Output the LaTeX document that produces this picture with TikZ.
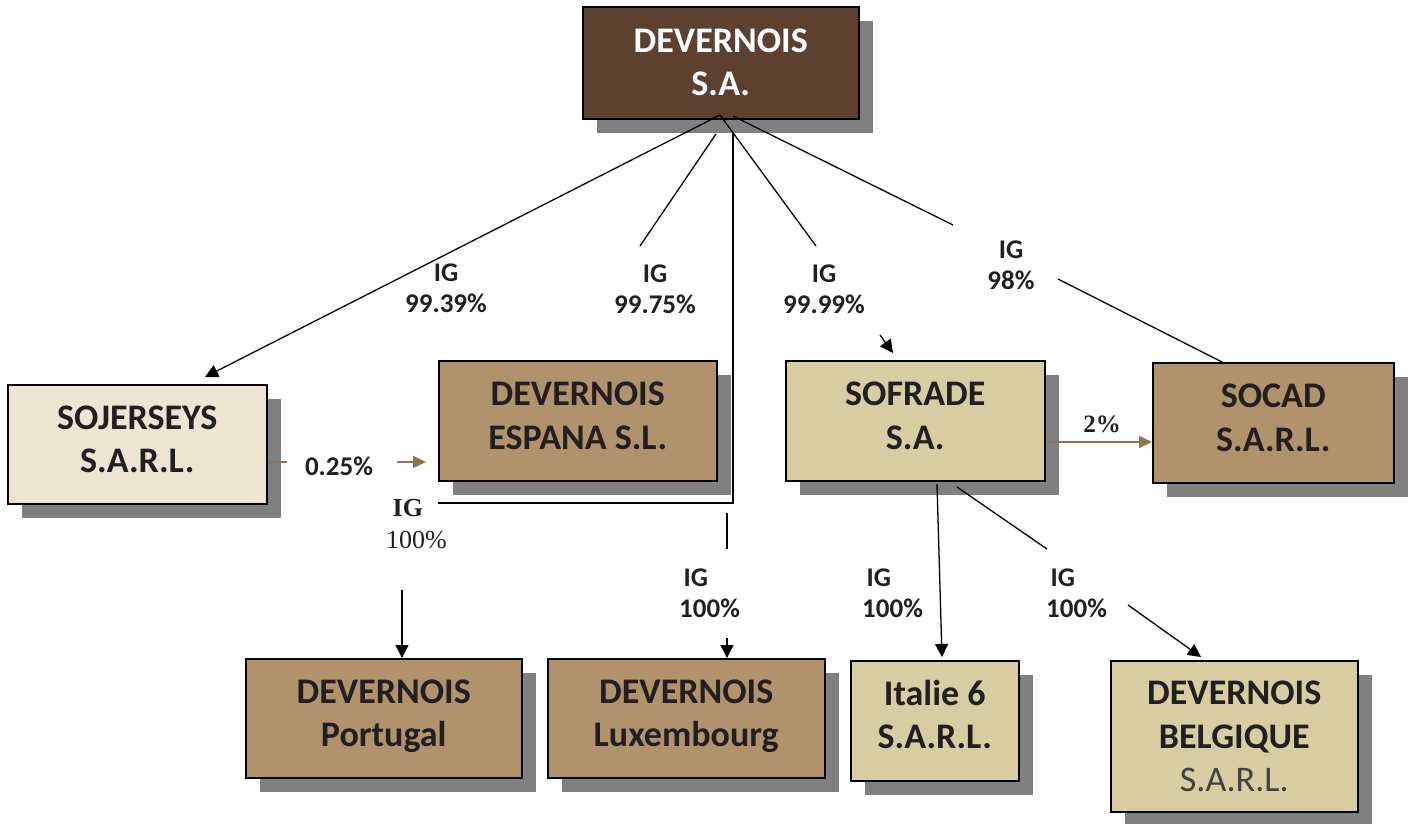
\documentclass[tikz,border=0pt]{standalone}
\usepackage{fontspec}
\setmainfont{Carlito}
\newfontfamily\seriffont{Liberation Serif}
\usetikzlibrary{shadows,arrows.meta}
\definecolor{topbrown}{HTML}{5C4130}
\definecolor{midbrown}{HTML}{B0926C}
\definecolor{sand}{HTML}{D8CCA2}
\definecolor{cream}{HTML}{EDE5D1}
\definecolor{shadowgray}{HTML}{808080}
\definecolor{textdark}{HTML}{231F20}
\definecolor{arrowbrown}{HTML}{8F7450}
\newcommand{\boxtext}[2][2pt]{\raisebox{#1}[\height][\depth]{\begin{tabular}{@{}c@{}}#2\end{tabular}}}
\tikzset{
  box/.style={draw=black, line width=1.5pt, align=center, inner sep=0pt, anchor=north west,
    font=\fontsize{36}{43.5}\selectfont\bfseries, text=textdark,
    drop shadow={shadow xshift=14pt, shadow yshift=-14pt, fill=shadowgray, opacity=1}},
  lab/.style={font=\fontsize{27}{31}\selectfont\bfseries, text=textdark, align=center, inner sep=0pt},
  labl/.style={lab, align=left, anchor=west},
  slab/.style={font=\fontsize{26}{32}\selectfont\seriffont, text=textdark, align=left, inner sep=0pt},
  conn/.style={line width=1.3pt, black},
  arr/.style={conn, -{Triangle[length=13pt,width=13pt]}},
  barr/.style={line width=1.6pt, arrowbrown, -{Triangle[length=13pt,width=12pt]}},
  bline/.style={line width=1.6pt, arrowbrown}
}
\begin{document}
\begin{tikzpicture}[x=1pt,y=-1pt]
\useasboundingbox (0,0) rectangle (1416,823);
% boxes
\node[box, fill=topbrown, text=white, minimum width=276, minimum height=112] (top) at (582,6) {\boxtext[-2.5pt]{DEVERNOIS\\S.A.}};
\node[box, fill=cream, minimum width=259, minimum height=119] (soj) at (7,384) {\boxtext{SOJERSEYS\\S.A.R.L.}};
\node[box, fill=midbrown, minimum width=278, minimum height=120] (esp) at (438,360) {\boxtext{DEVERNOIS\\ESPANA S.L.}};
\node[box, fill=sand, minimum width=259, minimum height=120] (sof) at (785,360) {\boxtext{SOFRADE\\S.A.}};
\node[box, fill=midbrown, minimum width=241, minimum height=120] (soc) at (1152,362) {\boxtext{SOCAD\\S.A.R.L.}};
\node[box, fill=midbrown, minimum width=276, minimum height=119] (por) at (245,658) {\boxtext{DEVERNOIS\\Portugal}};
\node[box, fill=midbrown, minimum width=277, minimum height=119] (lux) at (547,658) {\boxtext{DEVERNOIS\\Luxembourg}};
\node[box, fill=sand, minimum width=168, minimum height=120] (ita) at (850,660) {\boxtext[2.5pt]{Italie 6\\S.A.R.L.}};
\node[box, fill=sand, minimum width=247, minimum height=151] (bel) at (1110,660) {\boxtext[-3.5pt]{DEVERNOIS\\BELGIQUE\\{\mdseries\color{textdark!85}S.A.R.L.}}};
% labels
\node[lab] (l1) at (446,288) {IG\\99.39\%};
\node[lab] (l2) at (655,289) {IG\\99.75\%};
\node[lab] (l3) at (824,289) {IG\\99.99\%};
\node[lab] (l4) at (1011,265) {IG\\98\%};
\node[slab, anchor=west] (l5) at (386,524) {{\bfseries\ IG}\\100\%};
\node[labl] (l6) at (679,593) {\,IG\\100\%};
\node[labl] (l7) at (862,593) {\,IG\\100\%};
\node[labl] (l8) at (1046,593) {\,IG\\100\%};
\node[lab] (l9) at (339,466) {0.25\%};
\node[font=\fontsize{25}{30}\selectfont\seriffont\bfseries, text=textdark, inner sep=0pt] (l10) at (1102,424) {2\%};
% coordinates
\coordinate (v1) at (720,115);
\coordinate (v2) at (733,116);
\coordinate (sojtip) at (205,377);
\coordinate (a1) at (716,134);
\coordinate (a2) at (640,246);
\coordinate (b1) at (816,246);
\coordinate (c1) at (953,225);
\coordinate (c2) at (1058,279);
\coordinate (c3) at (1222,300);
\coordinate (d1) at (733,133);
\coordinate (d2) at (733,503);
\coordinate (d3) at (438,503);
\coordinate (pa) at (402,590);
\coordinate (e1) at (727,513);
\coordinate (e2) at (727,549);
\coordinate (e3) at (727,638);
\coordinate (f1) at (880,335);
\coordinate (f2) at (893,353);
\coordinate (g1) at (937,484);
\coordinate (g2) at (942,657);
\coordinate (h1) at (957,487);
\coordinate (h2) at (1047,549);
\coordinate (h3) at (1128,605);
\coordinate (h4) at (1201,657);
\coordinate (k1) at (287,462);
\coordinate (k2) at (397,462);
\coordinate (k3) at (426,462);
% connectors
\draw[arr] (v1) -- (sojtip);
\draw[conn] (a1) -- (a2);
\draw[conn] (v1) -- (b1);
\draw[arr] (f1) -- (f2);
\draw[conn] (v2) -- (c1);
\draw[conn] (c2) -- (c3 |- soc.north);
\draw[conn] (d1) -- (d2) -- (d3);
\draw[arr] (pa) -- (pa |- por.north);
\draw[conn] (e1) -- (e2);
\draw[arr] (e3) -- (e3 |- lux.north);
\draw[arr] (g1) -- (g2);
\draw[conn] (h1) -- (h2);
\draw[arr] (h3) -- (h4);
\draw[bline] (soj.east |- k1) -- (k1);
\draw[barr] (k2) -- (k3);
\draw[barr] (sof.east |- 0,442) -- (soc.west |- 0,442);
\end{tikzpicture}
\end{document}
